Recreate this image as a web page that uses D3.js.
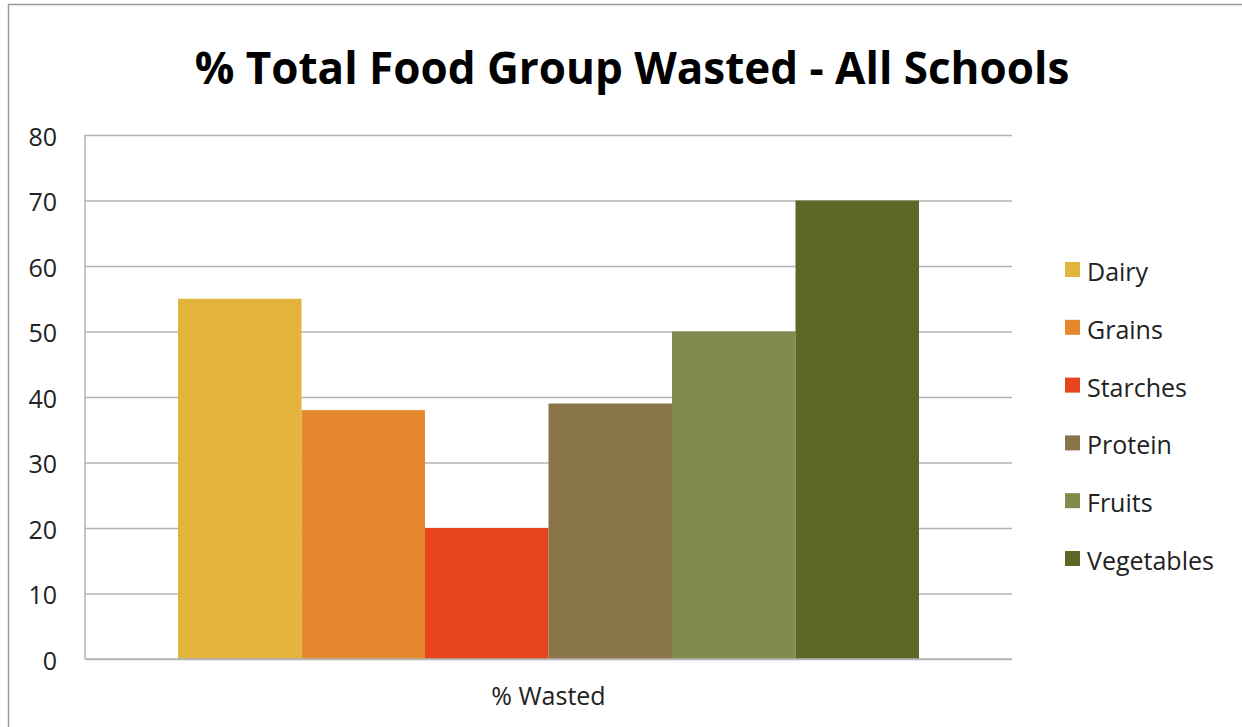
<!DOCTYPE html>
<html>
<head>
<meta charset="utf-8">
<script src="https://cdn.jsdelivr.net/npm/d3@7/dist/d3.min.js"></script>
<style>
  html, body { margin: 0; padding: 0; background: #fff; }
  svg { display: block; }
  text { font-family: "Open Sans", "Lato", sans-serif; }
</style>
</head>
<body>
<svg id="chart" width="1242" height="727"></svg>
<script>
const title = "% Total Food Group Wasted - All Schools";
const categories = ["% Wasted"];
const seriesNames = ["Dairy", "Grains", "Starches", "Protein", "Fruits", "Vegetables"];
const seriesValues = [55, 38, 20, 39, 50, 70];
const seriesColors = ["#E3B53D", "#E6892E", "#E7431C", "#8A754A", "#828A4E", "#5D6726"];
const yTicks = [0, 10, 20, 30, 40, 50, 60, 70, 80];

const svg = d3.select("#chart");
const W = 1242, H = 727;
const plot = { left: 85, right: 1012, top: 135, bottom: 659 };

// outer chart border (left and top visible; right/bottom outside frame)
svg.append("rect")
  .attr("x", 8.5).attr("y", 4.5)
  .attr("width", W + 20).attr("height", H + 20)
  .attr("fill", "none").attr("stroke", "#9a9a9a").attr("stroke-width", 1.5);

svg.append("text")
  .attr("x", 632).attr("y", 84)
  .attr("text-anchor", "middle")
  .attr("font-size", 44).attr("font-weight", "bold").attr("fill", "#000")
  .text(title);

const y = d3.scaleLinear().domain([0, 80]).range([plot.bottom, plot.top]);
const x0 = d3.scaleBand().domain(categories).range([plot.left, plot.right]).paddingInner(0).paddingOuter(0.1255);
const x1 = d3.scaleBand().domain(seriesNames).range([0, x0.bandwidth()]).padding(0);

// gridlines
const yAxis = d3.axisLeft(y).tickValues(yTicks).tickSize(-(plot.right - plot.left)).tickPadding(28).tickFormat(d3.format("d"));
const gy = svg.append("g").attr("transform", `translate(${plot.left},0)`).call(yAxis);
gy.select(".domain").remove();
gy.selectAll(".tick line").attr("stroke", "#b3b3b3").attr("stroke-width", 1.5);
gy.selectAll(".tick text").attr("font-size", 25).attr("fill", "#222")
  .attr("dy", "0.4em").attr("font-family", '"Open Sans", sans-serif');

// left axis line
svg.append("line")
  .attr("x1", plot.left).attr("x2", plot.left)
  .attr("y1", plot.top).attr("y2", plot.bottom)
  .attr("stroke", "#b3b3b3").attr("stroke-width", 1.5);

// bars
const g = svg.append("g");
categories.forEach(cat => {
  g.selectAll("rect.bar")
    .data(seriesNames.map((s, i) => ({ s, v: seriesValues[i], c: seriesColors[i] })))
    .enter().append("rect")
    .attr("class", "bar")
    .attr("x", d => x0(cat) + x1(d.s))
    .attr("y", d => y(d.v))
    .attr("width", x1.bandwidth())
    .attr("height", d => y(0) - y(d.v))
    .attr("fill", d => d.c);
});

// baseline
svg.append("line")
  .attr("x1", plot.left).attr("x2", plot.right)
  .attr("y1", plot.bottom).attr("y2", plot.bottom)
  .attr("stroke", "#b3b3b3").attr("stroke-width", 1.5);

// x label
svg.append("text")
  .attr("x", x0(categories[0]) + x0.bandwidth() / 2)
  .attr("y", 705)
  .attr("text-anchor", "middle")
  .attr("font-size", 25).attr("fill", "#222")
  .text(categories[0]);

// legend
const leg = svg.append("g").attr("transform", "translate(1065,262)");
const items = leg.selectAll("g").data(seriesNames).enter().append("g")
  .attr("transform", (d, i) => `translate(0,${i * 57.8})`);
items.append("rect").attr("width", 15).attr("height", 15)
  .attr("fill", (d, i) => seriesColors[i]);
items.append("text").attr("x", 22).attr("y", 19)
  .attr("font-size", 25).attr("fill", "#222").text(d => d);
</script>
</body>
</html>
